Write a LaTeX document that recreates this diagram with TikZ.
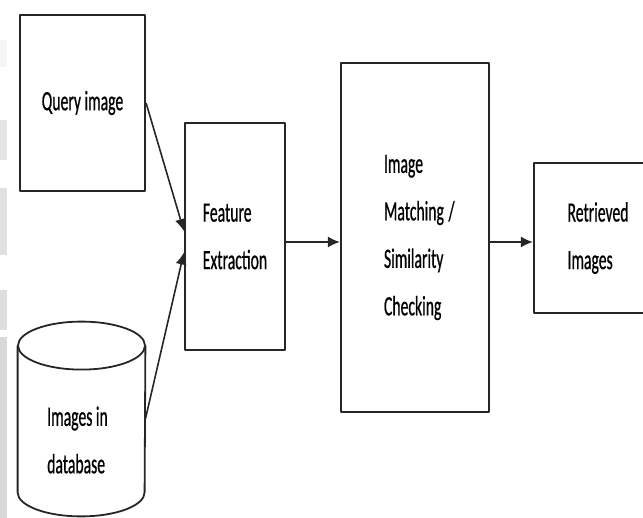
\documentclass[tikz,border=0pt]{standalone}
\usepackage{fontspec}
\setmainfont{Carlito}[FakeStretch=0.56, FakeBold=0.6]
\usetikzlibrary{arrows.meta}
\begin{document}
\begin{tikzpicture}[x=.5pt, y=-.5pt, font=\fontsize{14}{23.75}\selectfont, line join=round, >={Latex[length=6pt,width=5.5pt]},
	box/.style={draw=black!85, line width=1.1pt, align=left, inner sep=0pt},
	dbase/.style={minimum width=63.5pt, minimum height=97pt, inner sep=0pt},
	flow/.style={->, draw=black!85, line width=.8pt}]
	\useasboundingbox (0,0) rectangle (643,518);
	% faint strip down the left edge
	\foreach \ya/\yb/\g in {40/67/4,120/160/10,188/255/12,290/330/13,337/518/15}
		\fill[black!\g] (0,\ya) rectangle (7,\yb);
	\node[box, minimum width=62.5pt, minimum height=88pt] (q) at (82.5,103) {Query image};
	\node[box, minimum width=50pt, minimum height=113.5pt] (fe) at (235,236.5) {Feature\\Extraction};
	\node[box, minimum width=74pt, minimum height=174.5pt, text width=31pt] (im) at (415,237.5) {Image\\Matching\,/\\Similarity\\Checking};
	\node[box, minimum width=64pt, minimum height=75pt] (ri) at (598,238) {Retrieved\\Images};
	% the database drum
	\node[dbase] (db) at (81.5,419) {};
	\draw[black!85, line width=.9pt] ([yshift=-12pt]db.north) ellipse (31.75pt and 12pt);
	\draw[black!85, line width=.9pt] ([yshift=-12pt]db.north west) -- ([yshift=12pt]db.south west)
		arc (180:360:31.75pt and 12pt) -- ([yshift=-12pt]db.north east);
	\node[align=left, inner sep=0pt] (dbtxt) at (77.5,440) {Images in\\database};
	\draw[flow] (q.east) -- ([yshift=2.75pt]fe.west);
	\draw[flow] (db.east) -- ([yshift=-8pt]fe.west);
	\draw[flow] ([yshift=-2.75pt]fe.east) -- ([yshift=-2.25pt]im.west);
	\draw[flow] ([yshift=-2.25pt]im.east) -- ([yshift=-2pt]ri.west);
\end{tikzpicture}
\end{document}
